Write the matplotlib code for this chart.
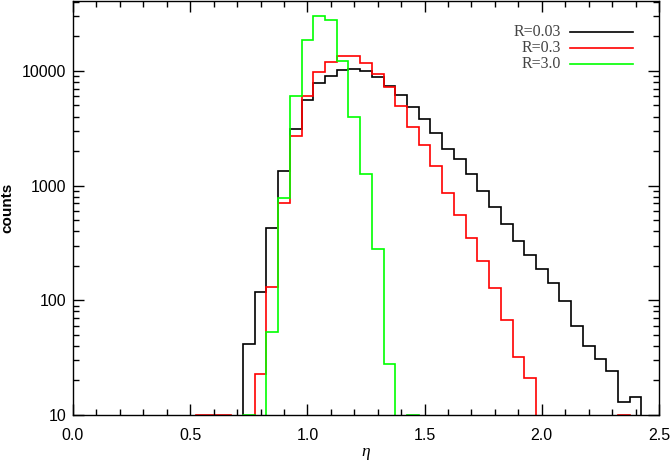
import numpy as np
import matplotlib
matplotlib.use('Agg')
import matplotlib.pyplot as plt

# histogram bins: first left edge and width (eta)
bin_start = 0.525
bin_width = 0.05

# counts per bin (0 = empty bin, below plotted range)
counts_r003 = [0, 0, 0, 0, 42, 118, 425, 1350, 3100, 5600, 7900, 9000, 10200,
               10350, 10000, 8800, 7400, 6170, 4850, 3810, 2860, 2090, 1710,
               1250, 900, 655, 460, 330, 250, 189, 141, 99, 60, 40, 31, 24,
               13, 14.4, 0]
counts_r03 = [10, 10, 10, 0, 0, 23, 131, 700, 2710, 6050, 9800, 12050, 13500,
              13400, 11700, 9400, 7200, 4950, 3230, 2280, 1490, 860, 555, 348,
              222, 127, 68, 32, 21, 0, 0, 0, 0, 0, 0, 0, 10, 0, 0]
counts_r30 = [0, 0, 0, 0, 10, 0, 53, 776, 6050, 18600, 30300, 27900, 12300,
              3990, 1250, 278, 28, 0, 10, 0, 0, 0, 0, 0, 0, 0, 0, 0, 0, 0, 0,
              0, 0, 0, 0, 0, 0, 0, 0]

labels = ['R=0.03', 'R=0.3', 'R=3.0']
colors = ['black', '#ff0000', '#00ff00']
series = [counts_r003, counts_r03, counts_r30]

nbins = len(counts_r003)
edges = bin_start + bin_width * np.arange(nbins + 1)

fig = plt.figure(figsize=(6.71, 4.61), dpi=100)
ax = fig.add_axes([73 / 671, 46 / 461, 586 / 671, 414 / 461])

for vals, col in zip(series, colors):
    v = np.array(vals, dtype=float)
    v = np.where(v > 0, v, 1e-3)
    v = np.concatenate([[1e-3], v, [1e-3]])
    e = np.concatenate([[edges[0] - bin_width], edges, [edges[-1] + bin_width]])
    ax.stairs(v, e, baseline=None, color=col, linewidth=1.2)

ax.set_yscale('log')
ax.set_xlim(0, 2.5)
ax.set_ylim(10, 40700)
ax.set_xticks([0.0, 0.5, 1.0, 1.5, 2.0, 2.5])
ax.set_xticklabels(['0.0', '0.5', '1.0', '1.5', '2.0', '2.5'])
ax.set_xticks(np.arange(0, 2.5001, 0.1), minor=True)
ax.set_yticks([10, 100, 1000, 10000])
ax.set_yticklabels(['10', '100', '1000', '10000'])

for lab in ax.get_xticklabels() + ax.get_yticklabels():
    lab.set_fontfamily('Liberation Sans')
    lab.set_fontsize(11.5)

ax.tick_params(which='both', direction='in', top=True, right=True, width=1)
ax.tick_params(which='major', length=8)
ax.tick_params(axis='x', which='major', pad=9)
ax.tick_params(axis='y', which='major', pad=5)
ax.tick_params(which='minor', length=4)
for sp in ax.spines.values():
    sp.set_linewidth(1)

ax.set_xlabel('η', fontsize=12.5, fontfamily='Liberation Serif',
              fontstyle='italic', labelpad=1)
ax.set_ylabel('counts', fontsize=11, fontfamily='Liberation Sans',
              fontweight='bold', labelpad=5)

# legend drawn IDL-style: right-aligned text then line
ly = [0.926, 0.887, 0.847]
for lab, col, y in zip(labels, colors, ly):
    ax.text(0.833, y, lab, transform=ax.transAxes, ha='right', va='center',
            fontfamily='Liberation Serif', fontsize=11.5, color='#444444')
    ax.plot([0.848, 0.956], [y, y], transform=ax.transAxes, color=col,
            linewidth=1.2)

fig.savefig('out.png', dpi=100)
